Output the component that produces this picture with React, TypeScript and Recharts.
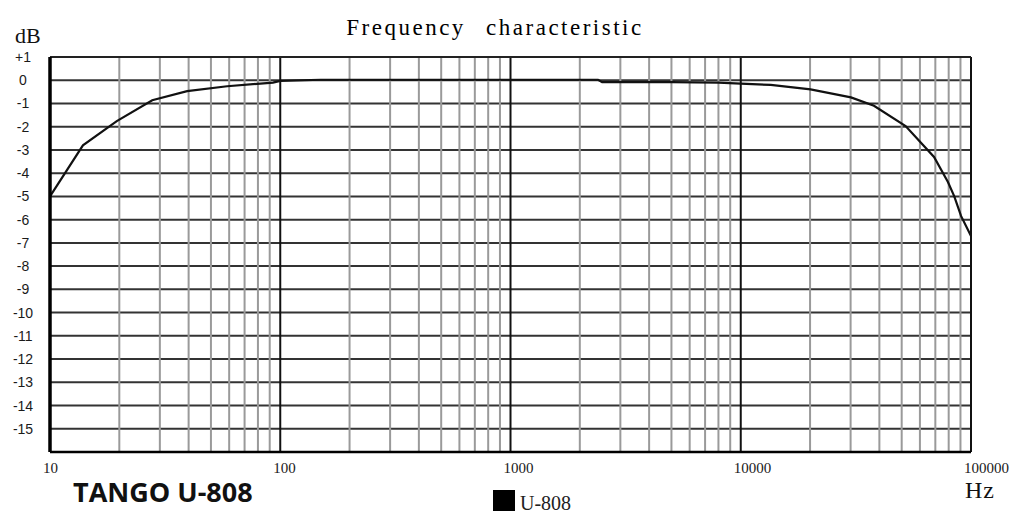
import React from "react";
import {
  LineChart,
  Line,
  XAxis,
  YAxis,
  CartesianGrid,
  ReferenceLine,
} from "recharts";

// frequency (Hz) and level (dB)
const FREQ = [
  10, 13.9, 19.5, 27.8, 39.4, 58.8, 93, 100, 150, 300, 1000, 2400, 2500, 5000,
  8000, 10000, 13500, 20100, 30100, 37900, 52000, 69100, 79400, 84600, 90500,
  100000,
];
const GAIN = [
  -5.0, -2.8, -1.76, -0.86, -0.47, -0.26, -0.1, -0.03, 0.02, 0.02, 0.02, 0.02,
  -0.08, -0.08, -0.1, -0.15, -0.2, -0.39, -0.74, -1.1, -1.97, -3.3, -4.38,
  -5.0, -5.84, -6.7,
];

const SERIES_NAME = "U-808";
const DECADES = [10, 100, 1000, 10000, 100000];
const MINOR_STEPS = [2, 3, 4, 5, 6, 7, 8, 9];
const DB_TICKS = [
  1, 0, -1, -2, -3, -4, -5, -6, -7, -8, -9, -10, -11, -12, -13, -14, -15, -16,
];

const data = FREQ.map((f, i) => ({ f, db: GAIN[i] }));
const minorLines = DECADES.slice(0, -1).flatMap((d) =>
  MINOR_STEPS.map((m) => d * m)
);

const serif = "'Liberation Serif', 'Times New Roman', serif";

const YTick = (props: any) => {
  const { x, y, payload } = props;
  const v = payload.value;
  if (v === -16) return null;
  return (
    <text
      x={x - 27}
      y={y + 5}
      textAnchor="middle"
      fontFamily="'Liberation Sans', Arial, sans-serif"
      fontSize={14}
      fill="#1a1a1a"
    >
      {v > 0 ? `+${v}` : String(v)}
    </text>
  );
};

const XTick = (props: any) => {
  const { x, y, payload } = props;
  return (
    <text
      x={x - 7}
      y={y + 21}
      textAnchor="start"
      fontFamily={serif}
      fontSize={15}
      fill="#1a1a1a"
    >
      {payload.value}
    </text>
  );
};

export default function App() {
  return (
    <div
      style={{
        position: "absolute",
        left: 0,
        top: 0,
        width: 1024,
        height: 528,
        background: "#fff",
      }}
    >
      <LineChart
        width={1024}
        height={528}
        data={data}
        margin={{ top: 57, right: 53, bottom: 56, left: 10 }}
      >
        <CartesianGrid vertical={false} stroke="#333" strokeWidth={2} />
        <XAxis
          dataKey="f"
          type="number"
          scale="log"
          domain={[10, 100000]}
          ticks={DECADES}
          tick={<XTick />}
          tickSize={0}
          tickMargin={0}
          height={20}
          axisLine={{ stroke: "#000", strokeWidth: 2.5 }}
          interval={0}
        />
        <YAxis
          type="number"
          domain={[-16, 1]}
          ticks={DB_TICKS}
          tick={<YTick />}
          tickSize={0}
          tickMargin={0}
          width={40}
          interval={0}
          axisLine={{ stroke: "#000", strokeWidth: 3.5 }}
        />
        {minorLines.map((f) => (
          <ReferenceLine
            key={"m" + f}
            x={f}
            stroke="#9a9a9a"
            strokeWidth={2}
          />
        ))}
        {DECADES.slice(1).map((f) => (
          <ReferenceLine
            key={"d" + f}
            x={f}
            stroke="#111"
            strokeWidth={2}
            ifOverflow="visible"
          />
        ))}
        <ReferenceLine y={1} stroke="#222" strokeWidth={2} ifOverflow="visible" />
        <Line
          type="linear"
          dataKey="db"
          name={SERIES_NAME}
          stroke="#111"
          strokeWidth={2.2}
          dot={false}
          isAnimationActive={false}
        />
      </LineChart>
      <svg
        width={1024}
        height={528}
        style={{ position: "absolute", left: 0, top: 0, pointerEvents: "none" }}
      >
        <text
          x={495}
          y={35}
          textAnchor="middle"
          fontFamily={serif}
          fontSize={23}
          letterSpacing={2.5}
          wordSpacing={12}
          fill="#000"
        >
          Frequency characteristic
        </text>
        <text x={15} y={43} fontFamily={serif} fontSize={22} fill="#111">
          dB
        </text>
        <text
          x={965}
          y={498}
          fontFamily={serif}
          fontSize={24}
          letterSpacing={1}
          fill="#111"
        >
          Hz
        </text>
        <text
          x={73}
          y={502}
          fontFamily="'Open Sans', sans-serif"
          fontWeight={700}
          fontSize={27}
          fill="#111"
        >
          TANGO U-808
        </text>
        <rect x={493} y={490} width={22} height={21} fill="#000" />
        <text x={520} y={510} fontFamily={serif} fontSize={20} fill="#222">
          {SERIES_NAME}
        </text>
      </svg>
    </div>
  );
}
